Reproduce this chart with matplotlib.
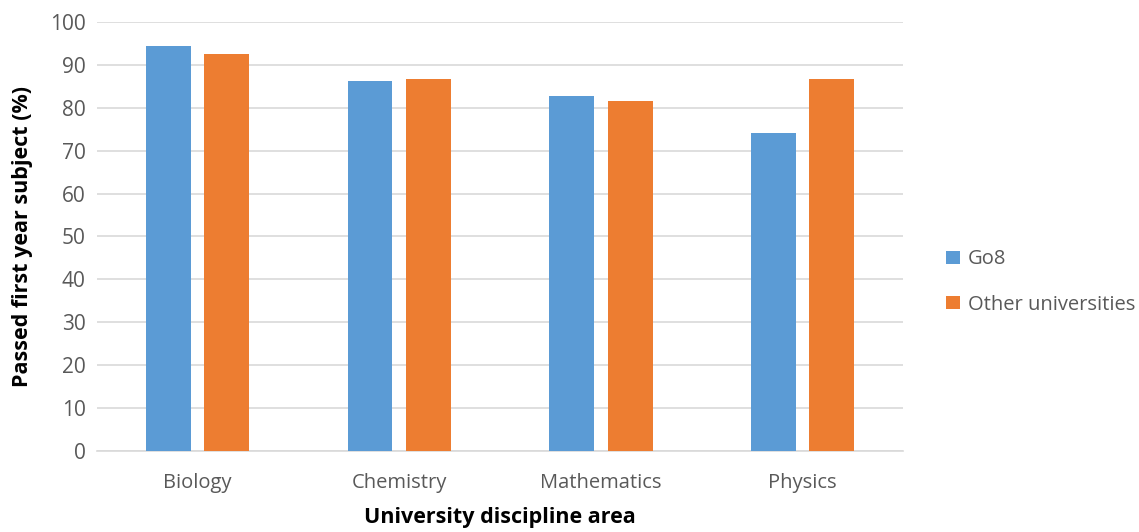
import matplotlib.pyplot as plt
import numpy as np

categories = ['Biology', 'Chemistry', 'Mathematics', 'Physics']
go8 = [94.4, 86.3, 82.8, 74.0]
other = [92.6, 86.7, 81.6, 86.7]
yticks = [0, 10, 20, 30, 40, 50, 60, 70, 80, 90, 100]

plt.rcParams['font.family'] = ['Open Sans', 'DejaVu Sans']

fig = plt.figure(figsize=(11.39, 5.32), dpi=100)
ax = fig.add_axes([0.085, 0.152, 0.708, 0.807])

x = np.arange(len(categories))
w = 0.223
ax.bar(x - 0.145, go8, w, color='#5b9bd5', label='Go8', zorder=3)
ax.bar(x + 0.145, other, w, color='#ed7d31', label='Other universities', zorder=3)

ax.set_xlim(-0.5, len(categories) - 0.5)
ax.set_ylim(0, 100)
ax.set_yticks(yticks)
ax.set_xticks(x)
ax.set_xticklabels(categories)
ax.grid(axis='y', color='#d9d9d9', linewidth=1.2, zorder=0)
for s in ['top', 'right', 'left']:
    ax.spines[s].set_visible(False)
ax.spines['bottom'].set_color('#d9d9d9')
ax.spines['bottom'].set_linewidth(1.2)
ax.tick_params(axis='x', length=0, labelsize=14.5, colors='#595959', pad=16)
ax.tick_params(axis='y', length=0, labelsize=15, colors='#595959', pad=8)

ax.set_ylabel('Passed first year subject (%)', fontsize=15.5, fontweight='bold', labelpad=12)
ax.set_xlabel('University discipline area', fontsize=15.5, fontweight='bold', labelpad=10)

leg = fig.legend(loc='center left', bbox_to_anchor=(0.815, 0.47), frameon=False,
                 fontsize=14.5, handlelength=0.65, handleheight=0.65, handletextpad=0.4,
                 labelspacing=1.25)
for t in leg.get_texts():
    t.set_color('#595959')

fig.savefig('out.png', dpi=100)
